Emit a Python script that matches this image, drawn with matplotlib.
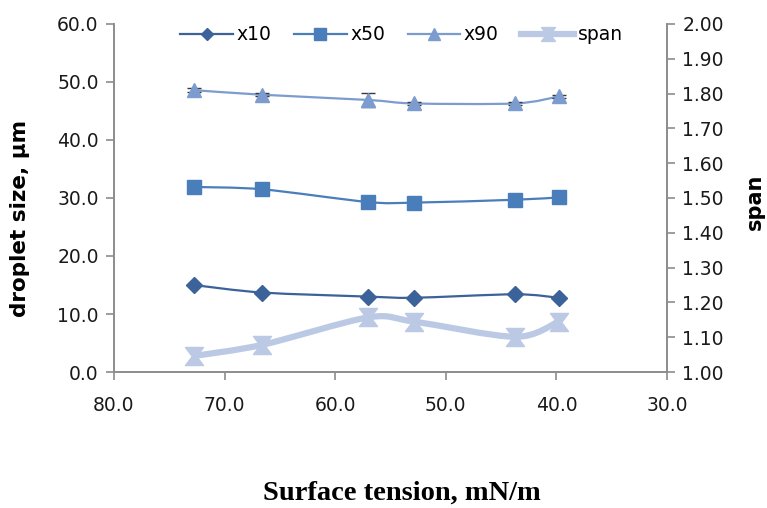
import numpy as np
import matplotlib
matplotlib.use("Agg")
import matplotlib.pyplot as plt
from matplotlib.path import Path
from matplotlib.patches import PathPatch
from matplotlib.lines import Line2D

# ---- data ----
tension = [72.8, 66.6, 57.0, 52.9, 43.7, 39.8]
x10 = [15.0, 13.7, 13.0, 12.8, 13.4, 12.8]
x50 = [31.9, 31.5, 29.3, 29.2, 29.7, 30.1]
x90 = [48.6, 47.8, 46.9, 46.3, 46.3, 47.5]
x90_err = [0.3, 0.3, 1.2, 0.3, 0.3, 0.3]
span = [1.046, 1.078, 1.157, 1.145, 1.101, 1.145]
series_names = ["x10", "x50", "x90", "span"]
left_ticks = [0, 10, 20, 30, 40, 50, 60]
right_ticks = [1.0, 1.1, 1.2, 1.3, 1.4, 1.5, 1.6, 1.7, 1.8, 1.9, 2.0]
x_ticks = [80, 70, 60, 50, 40, 30]

# ---- styles ----
c10 = "#3B6299"
c50 = "#4A7EBB"
c90 = "#7C9CCF"
cspan = "#BCC9E4"
spine_c = "#8C8C8C"
fs = 13.5

hourglass = Path([(-1, 1), (1, 1), (0.25, 0), (1, -1), (-1, -1), (-0.25, 0), (-1, 1)],
                 [Path.MOVETO] + [Path.LINETO] * 5 + [Path.CLOSEPOLY])


def smooth_path(xs, ys, t=0.45):
    xs = np.asarray(xs, float)
    ys = np.asarray(ys, float)
    pts = np.column_stack([xs, ys])
    n = len(pts)
    verts = [pts[0]]
    codes = [Path.MOVETO]
    for i in range(n - 1):
        p0 = pts[i - 1] if i > 0 else pts[i]
        p1 = pts[i]
        p2 = pts[i + 1]
        p3 = pts[i + 2] if i + 2 < n else pts[i + 1]
        c1 = p1 + (p2 - p0) * t / 3.0
        c2 = p2 - (p3 - p1) * t / 3.0
        verts += [c1, c2, p2]
        codes += [Path.CURVE4] * 3
    return Path(verts, codes)


fig = plt.figure(figsize=(7.67, 5.08), dpi=100)
ax = fig.add_axes([0.1486, 0.2677, 0.7210, 0.6851])
ax2 = ax.twinx()

ax.set_xlim(80, 30)
ax.set_ylim(0, 60)
ax2.set_ylim(1.0, 2.0)

# smoothed lines
for ys, col, lw, a in [(x10, c10, 1.6, ax), (x50, c50, 1.6, ax), (x90, c90, 1.6, ax)]:
    a.add_patch(PathPatch(smooth_path(tension, ys), fill=False, edgecolor=col, lw=lw,
                          transform=a.transData, zorder=3))
ax2.add_patch(PathPatch(smooth_path(tension, span), fill=False, edgecolor=cspan, lw=4.5,
                        transform=ax2.transData, zorder=3))

# markers
ax.plot(tension, x10, linestyle="none", marker="D", ms=8, color=c10, zorder=4)
ax.plot(tension, x50, linestyle="none", marker="s", ms=10, color=c50, zorder=4)
ax.errorbar(tension, x90, yerr=x90_err, linestyle="none", marker="^", ms=10, color=c90,
            ecolor="#3A3A3A", elinewidth=1, capsize=5, zorder=4)
ax2.plot(tension, span, linestyle="none", marker=hourglass, ms=13, color=cspan, zorder=4)

# axes styling
for a in (ax, ax2):
    a.spines["top"].set_visible(False)
    for s in ("left", "right", "bottom"):
        a.spines[s].set_color(spine_c)
        a.spines[s].set_linewidth(1.2)
ax.set_xticks(x_ticks)
ax.set_xticklabels([f"{v:.1f}" for v in x_ticks])
ax.set_yticks(left_ticks)
ax.set_yticklabels([f"{v:.1f}" for v in left_ticks])
ax2.set_yticks(right_ticks)
ax2.set_yticklabels([f"{v:.2f}" for v in right_ticks])
ax.tick_params(axis="both", direction="out", length=6, width=1.2, color=spine_c,
               labelsize=fs, labelcolor="#1a1a1a")
ax.tick_params(axis="x", pad=11)
ax.tick_params(axis="y", pad=5)
ax2.tick_params(axis="y", direction="out", length=6, width=1.2, color=spine_c,
                labelsize=fs, labelcolor="#1a1a1a", pad=5)

ax.set_ylabel("droplet size, μm", fontsize=15.5, fontweight="bold")
ax.yaxis.set_label_coords(-0.152, 0.44)
ax2.set_ylabel("span", fontsize=15, fontweight="bold")
ax2.yaxis.set_label_coords(1.14, 0.49)
fig.text(0.524, 0.004, "Surface tension, mN/m", ha="center", va="bottom",
         family="Liberation Serif", fontsize=20.5, fontweight="bold")

handles = [
    Line2D([], [], color=c10, lw=1.6, marker="D", ms=6),
    Line2D([], [], color=c50, lw=1.6, marker="s", ms=9),
    Line2D([], [], color=c90, lw=1.6, marker="^", ms=8),
    Line2D([], [], color=cspan, lw=4.5, marker=hourglass, ms=10),
]
ax.legend(handles, series_names, loc="upper center", bbox_to_anchor=(0.52, 1.045), ncol=4,
          frameon=False, fontsize=fs, handlelength=2.8, handletextpad=0.2,
          columnspacing=1.2)

fig.savefig("out.png", dpi=100)
